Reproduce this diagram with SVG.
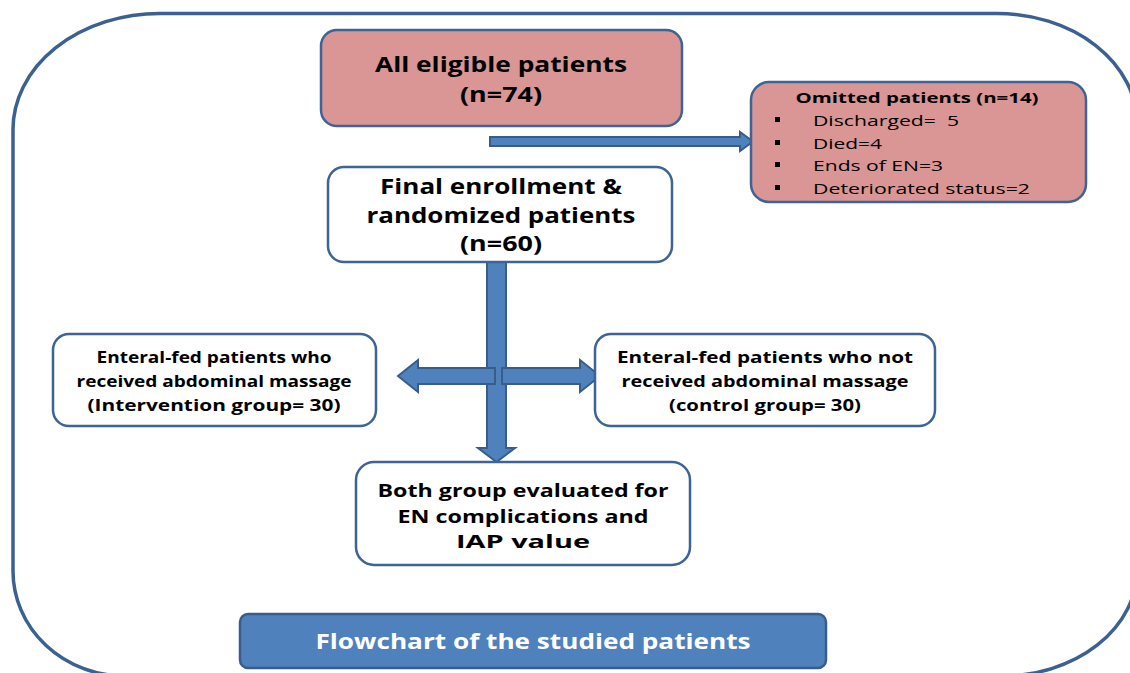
<svg xmlns="http://www.w3.org/2000/svg" width="1130" height="673" viewBox="0 0 1130 673">
<defs>
<style>
.frame{fill:none;stroke:#3b6190;stroke-width:3.5}
.pink{fill:#d99694;stroke:#3e6396;stroke-width:2.5}
.white{fill:#ffffff;stroke:#3e6396;stroke-width:2.5}
.blue{fill:#4f81bd;stroke:#385d8a;stroke-width:2.5}
.arrow{fill:#4f81bd;stroke:#385d8a;stroke-width:2}
.b{font-family:"Open Sans","Liberation Sans",sans-serif;font-weight:bold;fill:#000;text-anchor:middle}
.r{font-family:"Open Sans","Liberation Sans",sans-serif;fill:#000}
.w{font-family:"Open Sans","Liberation Sans",sans-serif;font-weight:bold;fill:#fff;text-anchor:middle}
</style>
</defs>
<rect width="1130" height="673" fill="#ffffff"/>
<path class="frame" d="M160 13.5 L997 13.5 A140 110 0 0 1 1137 123 L1137 570 A135 106 0 0 1 1002 676 L125 676 A112 105 0 0 1 13 571 L13 130 A147 116 0 0 1 160 13.5 Z"/>

<g id="connectors">
  <path class="arrow" d="M490 137 L740 137 L740 132 L753 141.5 L740 151 L740 146 L490 146 Z"/>
  <path class="arrow" d="M487 262 L506 262 L506 448 L515 448 L496.5 462 L478 448 L487 448 Z"/>
  <path class="arrow" d="M495 368 L418 368 L418 360 L398 376 L418 392 L418 384 L495 384 Z"/>
  <path class="arrow" d="M502 368 L580 368 L580 360 L600 376 L580 392 L580 384 L502 384 Z"/>
</g>

<g id="node-eligible">
  <rect class="pink" x="321" y="30" width="361" height="96" rx="16"/>
  <text class="b" x="501" y="72" font-size="22" textLength="252" lengthAdjust="spacingAndGlyphs">All eligible patients</text>
  <text class="b" x="501" y="102" font-size="22" textLength="82" lengthAdjust="spacingAndGlyphs">(n=74)</text>
</g>

<g id="node-omitted">
  <rect class="pink" x="751" y="82" width="335" height="120" rx="18"/>
  <text class="b" x="917" y="103" font-size="15" textLength="243" lengthAdjust="spacingAndGlyphs">Omitted patients (n=14)</text>
  <rect x="775" y="117" width="5" height="5" fill="#000"/>
  <rect x="775" y="140" width="5" height="5" fill="#000"/>
  <rect x="775" y="162" width="5" height="5" fill="#000"/>
  <rect x="775" y="185" width="5" height="5" fill="#000"/>
  <text class="r" x="813" y="126" font-size="15" textLength="146" lengthAdjust="spacingAndGlyphs" xml:space="preserve">Discharged=  5</text>
  <text class="r" x="813" y="149" font-size="15" textLength="69" lengthAdjust="spacingAndGlyphs">Died=4</text>
  <text class="r" x="813" y="171" font-size="15" textLength="130" lengthAdjust="spacingAndGlyphs">Ends of EN=3</text>
  <text class="r" x="813" y="194" font-size="15" textLength="217" lengthAdjust="spacingAndGlyphs">Deteriorated status=2</text>
</g>

<g id="node-final">
  <rect class="white" x="328" y="167" width="344" height="95" rx="16"/>
  <text class="b" x="501" y="194" font-size="22" textLength="242" lengthAdjust="spacingAndGlyphs">Final enrollment &amp;</text>
  <text class="b" x="501" y="223" font-size="22" textLength="269" lengthAdjust="spacingAndGlyphs">randomized patients</text>
  <text class="b" x="501" y="251" font-size="22" textLength="82" lengthAdjust="spacingAndGlyphs">(n=60)</text>
</g>

<g id="node-intervention">
  <rect class="white" x="53" y="334" width="323" height="92" rx="16"/>
  <text class="b" x="214" y="363" font-size="16" textLength="235" lengthAdjust="spacingAndGlyphs">Enteral-fed patients who</text>
  <text class="b" x="214" y="387" font-size="16" textLength="275" lengthAdjust="spacingAndGlyphs">received abdominal massage</text>
  <text class="b" x="214" y="411" font-size="16" textLength="253" lengthAdjust="spacingAndGlyphs">(Intervention group= 30)</text>
</g>

<g id="node-control">
  <rect class="white" x="595" y="334" width="340" height="92" rx="16"/>
  <text class="b" x="765" y="363" font-size="16" textLength="296" lengthAdjust="spacingAndGlyphs">Enteral-fed patients who not</text>
  <text class="b" x="765" y="387" font-size="16" textLength="287" lengthAdjust="spacingAndGlyphs">received abdominal massage</text>
  <text class="b" x="765" y="411" font-size="16" textLength="192" lengthAdjust="spacingAndGlyphs">(control group= 30)</text>
</g>

<g id="node-both">
  <rect class="white" x="356" y="462" width="334" height="103" rx="18"/>
  <text class="b" x="523" y="497" font-size="18" textLength="291" lengthAdjust="spacingAndGlyphs">Both group evaluated for</text>
  <text class="b" x="523" y="523" font-size="18" textLength="251" lengthAdjust="spacingAndGlyphs">EN complications and</text>
  <text class="b" x="523" y="548" font-size="18" textLength="134" lengthAdjust="spacingAndGlyphs">IAP value</text>
</g>

<g id="node-title">
  <rect class="blue" x="240" y="614" width="586" height="54" rx="8"/>
  <text class="w" x="533" y="649" font-size="22" textLength="435" lengthAdjust="spacingAndGlyphs">Flowchart of the studied patients</text>
</g>
</svg>
